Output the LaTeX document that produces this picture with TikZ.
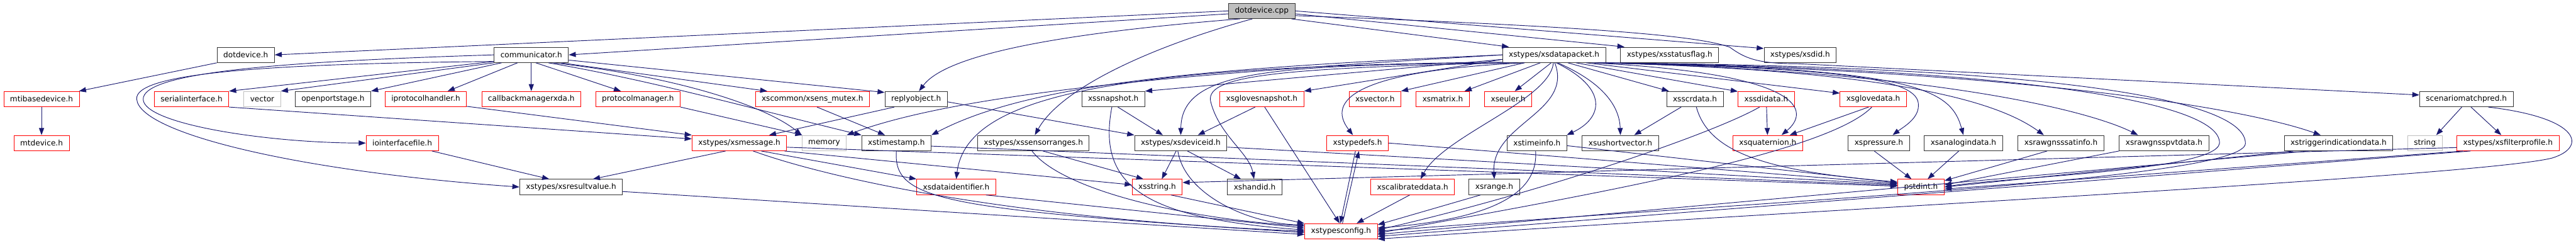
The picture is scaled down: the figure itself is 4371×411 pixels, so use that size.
\documentclass[tikz,border=0pt]{standalone}
\usepackage{fontspec}
\setmainfont{DejaVu Sans}
\usepackage{xcolor}
\usepackage{tikz}
\usetikzlibrary{arrows.meta,calc}

\definecolor{edgeblue}{HTML}{191970}
\definecolor{boxgrey}{HTML}{BFBFBF}

\begin{document}
\begin{tikzpicture}[
  x=0.75pt, y=-0.75pt,
  hdr/.style={draw=black!80, fill=white, line width=0.75pt, minimum height=19.5pt,
              inner xsep=8pt, inner ysep=0pt, font=\fontsize{9.7}{11.6}\selectfont},
  redhdr/.style={hdr, draw=red},
  syshdr/.style={hdr, draw=boxgrey},
  roothdr/.style={hdr, fill=boxgrey},
  inc/.style={draw=edgeblue, line width=0.75pt, -{Triangle[length=9pt,width=6.5pt]}}
]
  \useasboundingbox (0,0) rectangle (4371,411);

  % row 0 and 1
  \node[roothdr] (dotcpp) at (2141,18.5) {dotdevice.cpp};
  \node[hdr] (doth) at (417,93) {dotdevice.h};
  \node[hdr] (comm) at (901.5,93) {communicator.h};
  \node[hdr] (pkt) at (2637,93) {xstypes/xsdatapacket.h};
  \node[hdr] (statflag) at (2833,93) {xstypes/xsstatusflag.h};
  \node[hdr] (sdid) at (3054.5,93) {xstypes/xsdid.h};

  % row 2
  \node[redhdr] (mtibase) at (70.5,168) {mtibasedevice.h};
  \node[redhdr] (serial) at (325,168) {serialinterface.h};
  \node[syshdr] (vec) at (445,168) {vector};
  \node[hdr] (openport) at (565,168) {openportstage.h};
  \node[redhdr] (iproto) at (722.5,168) {iprotocolhandler.h};
  \node[redhdr] (cbmgr) at (901.5,168) {callbackmanagerxda.h};
  \node[redhdr] (protomgr) at (1082.5,168) {protocolmanager.h};
  \node[redhdr] (mutex) at (1378.5,168) {xscommon/xsens\_mutex.h};
  \node[hdr] (reply) at (1554.5,168) {replyobject.h};
  \node[hdr] (snap) at (1889,168) {xssnapshot.h};
  \node[redhdr] (glovesnap) at (2141,168) {xsglovesnapshot.h};
  \node[redhdr] (xsvec) at (2333,168) {xsvector.h};
  \node[redhdr] (xsmat) at (2448,168) {xsmatrix.h};
  \node[redhdr] (xseul) at (2559,168) {xseuler.h};
  \node[hdr] (scr) at (2876,168) {xsscrdata.h};
  \node[redhdr] (sdidata) at (2997,168) {xssdidata.h};
  \node[redhdr] (glovedata) at (3178.5,168) {xsglovedata.h};
  \node[hdr] (scen) at (4185,168) {scenariomatchpred.h};

  % row 3
  \node[redhdr] (mtdev) at (70.5,242.5) {mtdevice.h};
  \node[redhdr] (iofile) at (682.5,242.5) {iointerfacefile.h};
  \node[redhdr] (msg) at (1254.5,242.5) {xstypes/xsmessage.h};
  \node[syshdr] (mem) at (1398.5,242.5) {memory};
  \node[hdr] (tstamp) at (1521,242.5) {xstimestamp.h};
  \node[hdr] (ranges) at (1753.5,242.5) {xstypes/xssensorranges.h};
  \node[hdr] (devid) at (2003.5,242.5) {xstypes/xsdeviceid.h};
  \node[redhdr] (tdefs) at (2303.5,242.5) {xstypedefs.h};
  \node[hdr] (tinfo) at (2608,242.5) {xstimeinfo.h};
  \node[hdr] (usvec) at (2749.5,242.5) {xsushortvector.h};
  \node[redhdr] (quat) at (2999.5,242.5) {xsquaternion.h};
  \node[hdr] (press) at (3188,242.5) {xspressure.h};
  \node[hdr] (analog) at (3331.5,242.5) {xsanalogindata.h};
  \node[hdr] (satinfo) at (3497,242.5) {xsrawgnsssatinfo.h};
  \node[hdr] (pvt) at (3672,242.5) {xsrawgnsspvtdata.h};
  \node[hdr] (trig) at (3968,242.5) {xstriggerindicationdata.h};
  \node[syshdr] (str) at (4114.5,242.5) {string};
  \node[redhdr] (filt) at (4255.5,242.5) {xstypes/xsfilterprofile.h};

  % row 4 and 5
  \node[hdr] (resval) at (969,317) {xstypes/xsresultvalue.h};
  \node[redhdr] (dataid) at (1622.5,317) {xsdataidentifier.h};
  \node[redhdr] (xsstr) at (1963.5,317) {xsstring.h};
  \node[hdr] (handid) at (2129,317) {xshandid.h};
  \node[redhdr] (calib) at (2397,317) {xscalibrateddata.h};
  \node[hdr] (range) at (2535.5,317) {xsrange.h};
  \node[redhdr] (pstd) at (3259.5,317) {pstdint.h};
  \node[redhdr] (tcfg) at (2275.5,392) {xstypesconfig.h};

  % dotdevice.cpp
  \draw[inc] (dotcpp.west) -- (doth.east);
  \draw[inc] (dotcpp.185) -- (comm.east);
  \draw[inc] (dotcpp.-160) .. controls (1750,60) and (1600,100) .. (reply.70);
  \draw[inc] (dotcpp.-140) .. controls (1950,80) and (1800,150) .. (ranges.80);
  \draw[inc] (dotcpp.-15) -- (pkt.170);
  \draw[inc] (dotcpp.-5) -- (statflag.170);
  \draw[inc] (dotcpp.east) -- (sdid.170);
  \draw[inc] (dotcpp.-8) .. controls (2700,45) and (2880,60) .. (2935,80)
    .. controls (2960,98) and (2980,108) .. (3050,108) -- (scen.175);

  \draw[inc] (doth.south west) -- (mtibase.12);
  \draw[inc] (mtibase) -- (mtdev);

  % communicator.h
  \draw[inc] (comm.190) -- (serial.north east);
  \draw[inc] (comm.192) -- (vec.north east);
  \draw[inc] (comm.195) -- (openport.north east);
  \draw[inc] (comm.-150) -- (iproto.20);
  \draw[inc] (comm) -- (cbmgr);
  \draw[inc] (comm.-60) -- (protomgr.155);
  \draw[inc] (comm.-15) -- (mutex.170);
  \draw[inc] (comm.-8) -- (reply.168);
  \draw[inc] (comm.-20) .. controls (1150,130) and (1300,180) .. (mem.north west);
  \draw[inc] (comm.-25) .. controls (1100,135) and (1280,185) .. (tstamp.north west);
  \draw[inc] (comm.west) .. controls (450,105) and (240,125) .. (243,169)
    .. controls (246,210) and (450,242) .. (iofile.west);
  \draw[inc] (comm.190) .. controls (440,108) and (228,125) .. (232,168)
    .. controls (236,225) and (500,290) .. (resval.west);

  \draw[inc] (serial.south east) -- (msg.175);
  \draw[inc] (iproto.-10) -- (msg.north west);
  \draw[inc] (protomgr.south east) -- (mem.160);
  \draw[inc] (iofile.-15) -- (resval.160);
  \draw[inc] (reply.-160) -- (msg.15);
  \draw[inc] (reply.-5) -- (devid.north west);
  \draw[inc] (mutex.-60) -- (tstamp.145);

  % xsmessage.h and xstimestamp.h
  \draw[inc] (msg.-150) -- (resval.20);
  \draw[inc] (msg.-20) -- (dataid.north west);
  \draw[inc] (msg.-10) -- (xsstr.175);
  \draw[inc] (msg.-30) .. controls (1400,300) and (1700,370) .. (tcfg.180);
  \draw[inc] (msg.-5) -- (pstd.178);
  \draw[inc] (tstamp.south) .. controls (1515,340) and (1600,355) .. (tcfg.182);
  \draw[inc] (tstamp.-5) -- (pstd.176);
  \draw[inc] (resval.-5) -- (tcfg.185);
  \draw[inc] (dataid.-15) -- (tcfg.175);

  % xsdatapacket.h
  \draw[inc] (pkt.west) .. controls (2100,120) and (1650,150) .. (mem.north east);
  \draw[inc] (pkt.west) .. controls (2050,115) and (1750,140) .. (tstamp.north east);
  \draw[inc] (pkt.185) -- (snap.north east);
  \draw[inc] (pkt.190) .. controls (2150,110) and (2005,120) .. (devid.north);
  \draw[inc] (pkt.188) .. controls (1900,112) and (1640,160) .. (dataid.north);
  \draw[inc] (pkt.192) .. controls (2150,115) and (2040,130) .. (2055,175)
    .. controls (2070,230) and (2120,260) .. (handid.95);
  \draw[inc] (pkt.-175) -- (glovesnap.north east);
  \draw[inc] (pkt.-165) -- (xsvec.north east);
  \draw[inc] (pkt.195) .. controls (2300,120) and (2250,170) .. (tdefs.120);
  \draw[inc] (pkt.-150) -- (xsmat.20);
  \draw[inc] (pkt.-110) -- (xseul.50);
  \draw[inc] (pkt.-95) .. controls (2630,170) and (2450,230) .. (calib.45);
  \draw[inc] (pkt.-85) .. controls (2670,190) and (2530,210) .. (range.north);
  \draw[inc] (pkt.-75) .. controls (2730,150) and (2720,200) .. (tinfo.15);
  \draw[inc] (pkt.-65) .. controls (2720,140) and (2748,180) .. (usvec.north);
  \draw[inc] (pkt.-30) -- (scr.163);
  \draw[inc] (pkt.-20) -- (sdidata.165);
  \draw[inc] (pkt.-14) -- (glovedata.170);
  \draw[inc] (pkt.-12) .. controls (3070,125) and (3070,190) .. (quat.30);
  \draw[inc] (pkt.-11) .. controls (3100,115) and (3250,130) .. (3255,175)
    .. controls (3258,200) and (3230,215) .. (press.30);
  \draw[inc] (pkt.-10) .. controls (3250,115) and (3310,150) .. (analog.north);
  \draw[inc] (pkt.-10) .. controls (3250,120) and (3400,180) .. (satinfo.155);
  \draw[inc] (pkt.-9) .. controls (3300,122) and (3550,190) .. (pvt.163);
  \draw[inc] (pkt.-9) .. controls (3400,118) and (3800,180) .. (trig.156);
  \draw[inc] (pkt.-10) .. controls (3400,114) and (3770,170) .. (3766,243)
    .. controls (3760,290) and (3400,300) .. (pstd.east);
  \draw[inc] (pkt.-10) .. controls (3500,112) and (3810,170) .. (3810,243)
    .. controls (3810,305) and (3000,340) .. (tcfg.east);

  % second level
  \draw[inc] (snap.-60) -- (devid.156);
  \draw[inc] (snap.-100) .. controls (1860,320) and (1950,370) .. (tcfg.178);
  \draw[inc] (glovesnap.-130) -- (devid.25);
  \draw[inc] (glovesnap.-70) -- (tcfg.100);
  \draw[inc] (ranges.-40) -- (xsstr.150);
  \draw[inc] (ranges.-100) .. controls (1800,320) and (2000,370) .. (tcfg.172);
  \draw[inc] (devid.-120) -- (xsstr.60);
  \draw[inc] (devid.-50) -- (handid.150);
  \draw[inc] (devid.-110) .. controls (2010,330) and (2120,380) .. (tcfg.170);
  \draw[inc] (devid.-5) -- (pstd.174);
  \draw[inc] (xsstr.-30) -- (tcfg.168);
  \draw[inc] (tdefs.-105) -- (tcfg.95);
  \draw[inc] (tcfg.80) -- (tdefs.-80);
  \draw[inc] (tdefs.east) -- (pstd.172);
  \draw[inc] (calib.-110) -- (tcfg.27);
  \draw[inc] (range.-150) -- (tcfg.10);
  \draw[inc] (tinfo.-100) .. controls (2610,320) and (2550,370) .. (tcfg.5);
  \draw[inc] (tinfo.-5) -- (pstd.170);
  \draw[inc] (scr.-150) -- (usvec.30);
  \draw[inc] (scr.-80) .. controls (2900,260) and (3000,290) .. (pstd.168);
  \draw[inc] (sdidata) -- (quat);
  \draw[inc] (sdidata.-130) .. controls (2900,230) and (2600,330) .. (tcfg.2);
  \draw[inc] (glovedata.-120) -- (quat.20);
  \draw[inc] (glovedata.-100) .. controls (3100,260) and (2700,330) .. (tcfg.-3);

  % right part
  \draw[inc] (press.-120) -- (pstd.140);
  \draw[inc] (analog.-120) -- (pstd.50);
  \draw[inc] (satinfo.-150) -- (pstd.15);
  \draw[inc] (pvt.-170) -- (pstd.5);
  \draw[inc] (trig.-170) -- (pstd.0);
  \draw[inc] (trig.-165) -- (tcfg.-5);
  \draw[inc] (filt.-170) -- (pstd.-5);
  \draw[inc] (filt.-168) -- (tcfg.-8);
  \draw[inc] (filt.-175) -- (xsstr.10);
  \draw[inc] (scen.-120) -- (str.35);
  \draw[inc] (scen.-60) -- (filt.130);
  \draw[inc] (scen.-20) .. controls (4380,200) and (4390,250) .. (4330,268)
    .. controls (4200,300) and (3000,360) .. (tcfg.-12);
\end{tikzpicture}
\end{document}
